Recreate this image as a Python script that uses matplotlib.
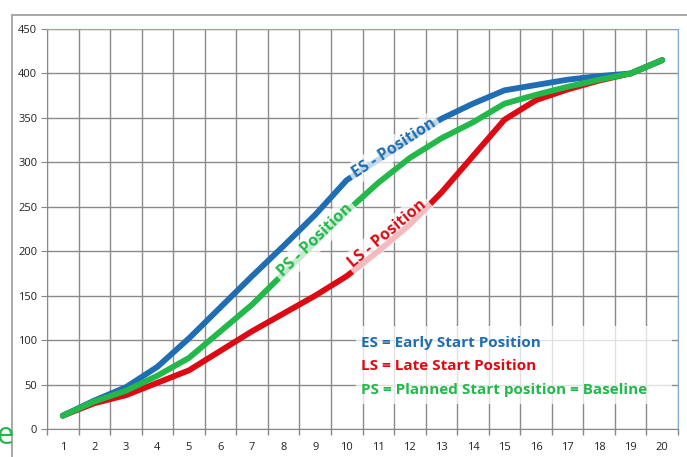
import matplotlib
matplotlib.use("Agg")
import matplotlib.pyplot as plt
from matplotlib.patches import Rectangle

# Cumulative position per period
periods = list(range(1, 21))
es_values = [15, 32, 47, 70, 102, 137, 172, 206, 241, 280, 303, 326, 349, 366, 381, 387, 393, 397, 400, 415]
ls_values = [15, 29, 38, 52, 66, 88, 110, 130, 150, 172, 200, 230, 266, 307, 348, 370, 382, 392, 400, 415]
ps_values = [15, 31, 43, 60, 80, 110, 140, 175, 210, 245, 277, 305, 327, 345, 366, 376, 385, 393, 400, 415]
y_ticks = [0, 50, 100, 150, 200, 250, 300, 350, 400, 450]

BLUE = "#1F6DB2"
RED = "#DD0A14"
GREEN = "#22B84A"

plt.rcParams["font.family"] = ["Open Sans", "DejaVu Sans"]

W, H = 687, 457
fig = plt.figure(figsize=(W / 100, H / 100), dpi=100)
ax = fig.add_axes([47 / W, 1 - 429 / H, (678 - 47) / W, (429 - 29) / H])

# outer chart frame
fig.patches.append(Rectangle((12 / W, -0.1), 1.0, 1 - 15 / H + 0.1,
                             transform=fig.transFigure, fill=False,
                             edgecolor="#9a9a9a", linewidth=1.2, zorder=0))
fig.text(-4 / W, 1 - 436 / H, "e", color=GREEN, fontsize=22, va="center",
         ha="left")

ax.set_xlim(0.5, 20.5)
ax.set_ylim(0, 450)
ax.set_xticks(periods)
ax.set_xticks([p + 0.5 for p in range(0, 21)], minor=True)
ax.set_yticks(y_ticks)
ax.tick_params(axis="x", which="major", length=0, labelsize=8, pad=9,
               colors="#222222")
ax.tick_params(axis="x", which="minor", length=4, color="#888888", width=1)
ax.tick_params(axis="y", length=4, color="#888888", labelsize=8,
               colors="#222222", pad=3)
ax.tick_params(axis="y", colors="#888888", labelcolor="#222222")
ax.grid(True, which="minor", axis="x", color="#8a8a8a", linewidth=1)
ax.grid(True, which="major", axis="y", color="#8a8a8a", linewidth=1)
ax.set_axisbelow(True)
for side in ("left", "bottom"):
    ax.spines[side].set_color("#888888")
for side in ("top", "right"):
    ax.spines[side].set_color("#7FA8D2")

lw = 4.2
ax.plot(periods, ls_values, color=RED, lw=lw, solid_capstyle="round",
        solid_joinstyle="round", zorder=3)
ax.plot(periods, es_values, color=BLUE, lw=lw, solid_capstyle="round",
        solid_joinstyle="round", zorder=3)
ax.plot(periods, ps_values, color=GREEN, lw=lw, solid_capstyle="round",
        solid_joinstyle="round", zorder=4)

halo = dict(facecolor="white", edgecolor="none", alpha=0.72, pad=2.5)
ax.text(11.5, 316, "ES - Position", color=BLUE, fontsize=11.5,
        fontweight="bold", rotation=33, ha="center", va="center",
        rotation_mode="anchor", bbox=halo, zorder=5)
ax.text(9.0, 212, "PS - Position", color=GREEN, fontsize=11.5,
        fontweight="bold", rotation=44, ha="center", va="center",
        rotation_mode="anchor", bbox=halo, zorder=5)
ax.text(11.3, 220, "LS - Position", color=RED, fontsize=11.5,
        fontweight="bold", rotation=40, ha="center", va="center",
        rotation_mode="anchor", bbox=halo, zorder=5)

# key box
ax.add_patch(Rectangle((10.3, 28), 10.0, 88, facecolor="white",
                       edgecolor="none", alpha=0.75, zorder=5))
key = [("ES = Early Start Position", BLUE),
       ("LS = Late Start Position", RED),
       ("PS = Planned Start position = Baseline", GREEN)]
for i, (txt, col) in enumerate(key):
    ax.text(10.45, 97 - i * 26.5, txt, color=col, fontsize=11,
            fontweight="bold", ha="left", va="center", zorder=6)

fig.savefig("out.png", dpi=100)
